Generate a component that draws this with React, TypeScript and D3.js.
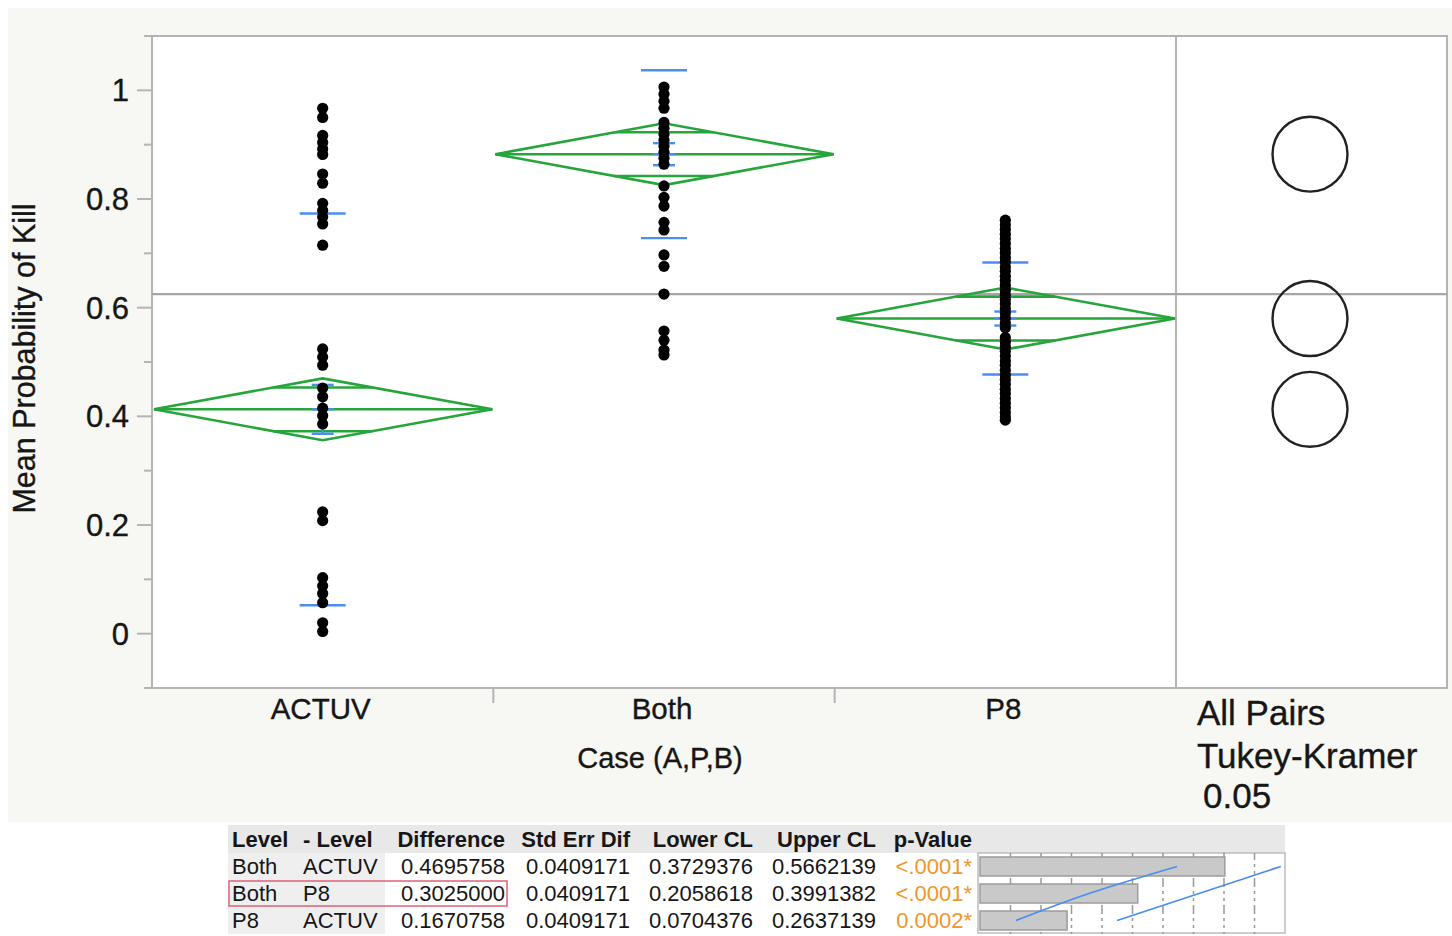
import * as d3 from "d3";

// one-way analysis: Mean Probability of Kill by Case
const groups = ["ACTUV", "Both", "P8"];
const groupMeans = [0.4129, 0.8825, 0.58];
const groupSD = [0.3605, 0.1545, 0.103];
const groupSE = [0.045, 0.0203, 0.0129];
const diamondHalf = 0.057;
const circleRadius = 0.069;
const grandMean = 0.6251;

const actuvValues = [
  0.967, 0.95, 0.917, 0.904, 0.892, 0.882, 0.846, 0.829, 0.792, 0.779, 0.767,
  0.754, 0.715, 0.524, 0.509, 0.494, 0.452, 0.436, 0.415, 0.401, 0.386, 0.224,
  0.208, 0.103, 0.088, 0.074, 0.057, 0.02, 0.004,
];
const bothValues = [
  1.006, 0.993, 0.98, 0.967, 0.941, 0.93, 0.919, 0.908, 0.897, 0.886, 0.875,
  0.864, 0.824, 0.803, 0.787, 0.757, 0.743, 0.697, 0.676, 0.625, 0.557, 0.54,
  0.522, 0.513,
];
const p8Values = [
  0.761, 0.752, 0.744, 0.735, 0.727, 0.718, 0.709, 0.701, 0.692, 0.684, 0.675,
  0.667, 0.658, 0.65, 0.641, 0.632, 0.624, 0.615, 0.607, 0.598, 0.59, 0.581,
  0.572, 0.563, 0.545, 0.537, 0.528, 0.52, 0.511, 0.502, 0.494, 0.485, 0.476,
  0.468, 0.459, 0.45, 0.442, 0.433, 0.424, 0.416, 0.407, 0.399, 0.393,
];
const groupValues = [actuvValues, bothValues, p8Values];

const majorTicks = [0, 0.2, 0.4, 0.6, 0.8, 1];
const minorTicks = [-0.1, 0.1, 0.3, 0.5, 0.7, 0.9, 1.1];

// connecting letters report
const tableHeaders = ["Level", "- Level", "Difference", "Std Err Dif", "Lower CL", "Upper CL", "p-Value"];
const levelA = ["Both", "Both", "P8"];
const levelB = ["ACTUV", "P8", "ACTUV"];
const differences = [0.4695758, 0.3025, 0.1670758];
const stdErrDif = [0.0409171, 0.0409171, 0.0409171];
const lowerCL = [0.3729376, 0.2058618, 0.0704376];
const upperCL = [0.5662139, 0.3991382, 0.2637139];
const pValues = ["<.0001*", "<.0001*", "0.0002*"];
const barTicks = [0.0585, 0.117, 0.1755, 0.234, 0.2925, 0.351, 0.4095, 0.468, 0.5265];
// blue guide lines in the bar panel: [value, row]
const guideLineA: [number, number][] = [[0.069, 2], [0.209, 1], [0.378, 0]];
const guideLineB: [number, number][] = [[0.263, 2], [0.42, 1], [0.577, 0]];

const font = "'Liberation Sans', Arial, Helvetica, sans-serif";
const green = "#25a53a";
const blue = "#4a8ef0";
const frame = "#b4b4b4";
const ink = "#161616";

const W = 1452;
const H = 936;
const left = 152;
const top = 36;
const bottom = 688;
const sepX = 1176;
const right = 1447;

const y = d3.scaleLinear().domain([-0.1, 1.1]).range([bottom, top]);
const x = d3.scaleBand().domain(groups).range([left, sepX]).padding(0);

const colX = [232, 303, 505, 630, 753, 876, 972];
const colAnchor = ["start", "start", "end", "end", "end", "end", "end"];
const tableLeft = 228;
const tableRight = 1285;
const headerTop = 825;
const rowH = 27;
const rowTop = 853;
const barX = d3.scaleLinear().domain([0, 0.585]).range([980, 1285]);
const rowY = d3.scaleLinear().domain([0, 2]).range([rowTop + rowH / 2, rowTop + rowH * 2.5]);

const guide = d3
  .line<[number, number]>()
  .x((d) => barX(d[0]))
  .y((d) => rowY(d[1]))
  .curve(d3.curveMonotoneY);

const textStyle = { stroke: ink, strokeWidth: 0.35 };

export default function App() {
  return (
    <div style={{ position: "absolute", left: 0, top: 0 }}>
      <svg width={W} height={H} style={{ display: "block", background: "#fff" }} fontFamily={font}>
        <rect x={8} y={8} width={W - 8} height={814} fill="#f7f7f3" />
        <rect x={left} y={top} width={right - left} height={bottom - top} fill="#fff" />

        {/* frame */}
        <line x1={145} x2={right + 1} y1={top} y2={top} stroke={frame} strokeWidth={2} />
        <line x1={145} x2={right + 1} y1={bottom} y2={bottom} stroke={frame} strokeWidth={2} />
        <line x1={left} x2={left} y1={top} y2={bottom} stroke={frame} strokeWidth={2} />
        <line x1={sepX} x2={sepX} y1={top} y2={bottom} stroke={frame} strokeWidth={2} />
        <line x1={right} x2={right} y1={top} y2={bottom} stroke={frame} strokeWidth={2} />

        {/* y axis ticks */}
        {majorTicks.map((t) => (
          <g key={"M" + t}>
            <line x1={137} x2={left} y1={y(t)} y2={y(t)} stroke={frame} strokeWidth={2} />
            <text x={129} y={y(t) + 11} textAnchor="end" fontSize={31} fill={ink} style={textStyle}>
              {t}
            </text>
          </g>
        ))}
        {minorTicks.map((t) => (
          <line key={"m" + t} x1={144} x2={left} y1={y(t)} y2={y(t)} stroke={frame} strokeWidth={2} />
        ))}

        {/* category separators */}
        {groups.slice(1).map((g) => (
          <line key={"s" + g} x1={x(g)} x2={x(g)} y1={bottom} y2={bottom + 15} stroke={frame} strokeWidth={2} />
        ))}

        {/* grand mean */}
        <line x1={left} x2={right} y1={y(grandMean)} y2={y(grandMean)} stroke="#a6a6a6" strokeWidth={2.2} />

        {/* mean diamonds */}
        {groups.map((g, i) => {
          const x0 = x(g)! + 2;
          const x1 = x(g)! + x.bandwidth() - 1;
          const cx = x(g)! + x.bandwidth() / 2;
          const m = groupMeans[i];
          const hw = (x1 - x0) / 2;
          const ov = diamondHalf / Math.SQRT2;
          const ovHalf = hw * (1 - 1 / Math.SQRT2);
          const pts = [
            [x0, y(m)],
            [cx, y(m + diamondHalf)],
            [x1, y(m)],
            [cx, y(m - diamondHalf)],
          ];
          return (
            <g key={"d" + g} stroke={green} strokeWidth={2.6} fill="none">
              <polygon points={pts.map((p) => p.join(",")).join(" ")} strokeLinejoin="miter" />
              <line x1={x0} x2={x1} y1={y(m)} y2={y(m)} />
              <line x1={cx - ovHalf} x2={cx + ovHalf} y1={y(m + ov)} y2={y(m + ov)} />
              <line x1={cx - ovHalf} x2={cx + ovHalf} y1={y(m - ov)} y2={y(m - ov)} />
            </g>
          );
        })}

        {/* std dev and mean error bars */}
        {groups.map((g, i) => {
          const cx = x(g)! + x.bandwidth() / 2;
          const m = groupMeans[i];
          const sd = groupSD[i];
          const se = groupSE[i];
          return (
            <g key={"e" + g} stroke={blue} strokeWidth={2.4}>
              <line x1={cx - 23} x2={cx + 23} y1={y(m + sd)} y2={y(m + sd)} />
              <line x1={cx - 23} x2={cx + 23} y1={y(m - sd)} y2={y(m - sd)} />
              <line x1={cx} x2={cx} y1={y(m + se)} y2={y(m - se)} />
              <line x1={cx - 11} x2={cx + 11} y1={y(m + se)} y2={y(m + se)} />
              <line x1={cx - 11} x2={cx + 11} y1={y(m)} y2={y(m)} />
              <line x1={cx - 11} x2={cx + 11} y1={y(m - se)} y2={y(m - se)} />
            </g>
          );
        })}

        {/* points */}
        {groups.map((g, i) => {
          const cx = x(g)! + x.bandwidth() / 2;
          return groupValues[i].map((v, j) => (
            <circle key={g + j} cx={cx} cy={y(v)} r={5.6} fill="#000" />
          ));
        })}

        {/* comparison circles */}
        {groups.map((g, i) => (
          <circle
            key={"c" + g}
            cx={1310}
            cy={y(groupMeans[i])}
            r={y(0) - y(circleRadius)}
            fill="none"
            stroke="#222"
            strokeWidth={2.4}
          />
        ))}

        {/* axis labels */}
        {groups.map((g) => (
          <text key={"l" + g} x={x(g)! + x.bandwidth() / 2 - 2} y={719} textAnchor="middle" fontSize={29.5} fill={ink} style={textStyle}>
            {g}
          </text>
        ))}
        <text x={660} y={768} textAnchor="middle" fontSize={29} fill={ink} style={textStyle}>
          Case (A,P,B)
        </text>
        <text
          transform={`translate(35,${(205 + 512) / 2}) rotate(-90)`}
          textAnchor="middle"
          fontSize={30.5}
          fill={ink}
          style={textStyle}
        >
          Mean Probability of Kill
        </text>
        <text x={1197} y={725} fontSize={35} fill={ink} style={textStyle}>All Pairs</text>
        <text x={1197} y={768} fontSize={35} fill={ink} style={textStyle}>Tukey-Kramer</text>
        <text x={1203} y={808} fontSize={35} fill={ink} style={textStyle}>0.05</text>

        {/* table */}
        <rect x={tableLeft} y={headerTop} width={tableRight - tableLeft} height={rowTop - headerTop} fill="#e8e8e8" />
        <rect x={tableLeft} y={rowTop} width={385 - tableLeft} height={rowH * 3} fill="#efefef" />
        {tableHeaders.map((h, k) => (
          <text key={"h" + k} x={colX[k]} y={847} textAnchor={colAnchor[k]} fontSize={22} fontWeight="bold" fill={ink}>
            {h}
          </text>
        ))}
        {levelA.map((a, r) => {
          const cells = [
            a,
            levelB[r],
            differences[r].toFixed(7),
            stdErrDif[r].toFixed(7),
            lowerCL[r].toFixed(7),
            upperCL[r].toFixed(7),
            pValues[r],
          ];
          return cells.map((c, k) => (
            <text
              key={"t" + r + k}
              x={colX[k]}
              y={rowTop + rowH * r + 21}
              textAnchor={colAnchor[k]}
              fontSize={22}
              fill={k === 6 ? "#f0962a" : ink}
            >
              {c}
            </text>
          ));
        })}
        <rect x={229} y={rowTop + rowH + 1} width={278} height={rowH - 2} fill="none" stroke="#e0607a" strokeWidth={1.5} />

        {/* difference bars */}
        <rect x={978} y={rowTop} width={tableRight - 978} height={rowH * 3 - 1} fill="#fff" stroke="#bdbdbd" strokeWidth={1.5} />
        {differences.map((dv, r) => (
          <g key={"b" + r}>
            {barTicks.map((t) => (
              <g key={t}>
                <line x1={barX(t)} x2={barX(t)} y1={rowTop + rowH * r} y2={rowTop + rowH * r + 4} stroke="#999" strokeWidth={1.5} />
                <line
                  x1={barX(t)}
                  x2={barX(t)}
                  y1={rowTop + rowH * r + 4}
                  y2={rowTop + rowH * (r + 1)}
                  stroke="#999"
                  strokeWidth={1.5}
                  strokeDasharray="3,4"
                />
              </g>
            ))}
            <rect
              x={barX(0)}
              y={rowTop + rowH * r + 4}
              width={barX(dv) - barX(0)}
              height={rowH - 8}
              fill="#c9c9c9"
              stroke="#9c9c9c"
              strokeWidth={1.5}
            />
          </g>
        ))}
        <path d={guide(guideLineA)!} fill="none" stroke={blue} strokeWidth={1.8} />
        <path d={guide(guideLineB)!} fill="none" stroke={blue} strokeWidth={1.8} />
      </svg>
    </div>
  );
}
